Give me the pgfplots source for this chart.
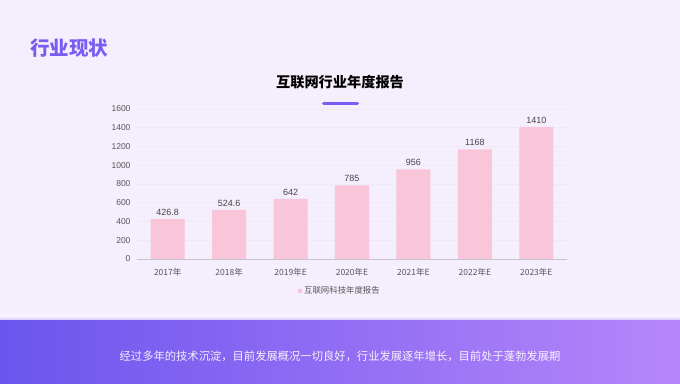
\documentclass[border=0pt]{standalone}
\usepackage{pgfplots}
\pgfplotsset{compat=1.18}
\usepackage{fontspec}
\setmainfont{Liberation Sans}
\newfontfamily\cjk{Noto Sans CJK SC}
\usetikzlibrary{shadings}
\definecolor{bg}{HTML}{F5EFFD}
\definecolor{pinkbar}{HTML}{F9C6D9}
\definecolor{titlepurple}{HTML}{7A5CF3}
\definecolor{bandL}{HTML}{6B55EE}
\definecolor{bandR}{HTML}{B786FA}
\definecolor{tickc}{HTML}{555555}
\definecolor{gridc}{HTML}{EEE8F7}
\definecolor{axisc}{HTML}{C9C3CF}
\begin{document}
\begin{tikzpicture}[x=1pt,y=1pt]
\useasboundingbox (0,0) rectangle (680,383);
\fill[bg] (0,0) rectangle (680,383);
\shade[top color=bg, bottom color=bandL!30!bg] (0,62) rectangle (680,67);
\shade[left color=bandL, right color=bandR] (0,0) rectangle (680,62);
\node[text=titlepurple, font=\cjk\bfseries\fontsize{19.5}{22}\selectfont, anchor=west, inner sep=0pt] at (30,334.5) {行业现状};
\node[font=\cjk\bfseries\fontsize{14.2}{16}\selectfont] at (340,300.5) {互联网行业年度报告};
\draw[titlepurple, line width=3pt, line cap=round] (323.5,279.7) -- (357.5,279.7);
\node[text=white, opacity=0.9, font=\cjk\fontsize{11.3}{13}\selectfont] at (340,26.3) {经过多年的技术沉淀，目前发展概况一切良好，行业发展逐年增长，目前处于蓬勃发展期};
\begin{axis}[name=ax,
  scale only axis, width=430pt, height=150pt, at={(137pt,124pt)}, anchor=south west,
  xmin=-0.5, xmax=6.5, ymin=0, ymax=1600,
  xtick={0,...,6},
  xticklabels={2017年,2018年,2019年E,2020年E,2021年E,2022年E,2023年E},
  ytick={0,200,...,1600},
  axis x line*=bottom, axis y line*=left,
  y axis line style={draw=none},
  x axis line style={draw=axisc, line width=0.8pt},
  major tick length=0pt,
  ymajorgrids, grid style={draw=gridc, line width=0.5pt},
  /pgf/number format/1000 sep={},
  /pgf/number format/assume math mode=true,
  ticklabel style={text=tickc, font=\fontsize{8.5}{10}\selectfont},
  yticklabel style={xshift=-3pt},
  xticklabel style={font=\cjk\fontsize{8.5}{10}\selectfont, yshift=-6pt},
  ybar, bar width=34pt,
  nodes near coords,
  nodes near coords style={text=tickc!80!black, font=\fontsize{9}{10}\selectfont, /pgf/number format/assume math mode=true},
  legend style={at={(0.472,-0.21)}, anchor=center, draw=none, fill=none, text=tickc, font=\cjk\fontsize{8.4}{10}\selectfont},
  legend image code/.code={\fill[pinkbar] (0pt,-2pt) rectangle (4pt,2pt);},
]
\addplot[fill=pinkbar, draw=none] coordinates {(0,426.8) (1,524.6) (2,642) (3,785) (4,956) (5,1168) (6,1410)};
\addlegendentry{互联网科技年度报告}
\end{axis}
\end{tikzpicture}
\end{document}
